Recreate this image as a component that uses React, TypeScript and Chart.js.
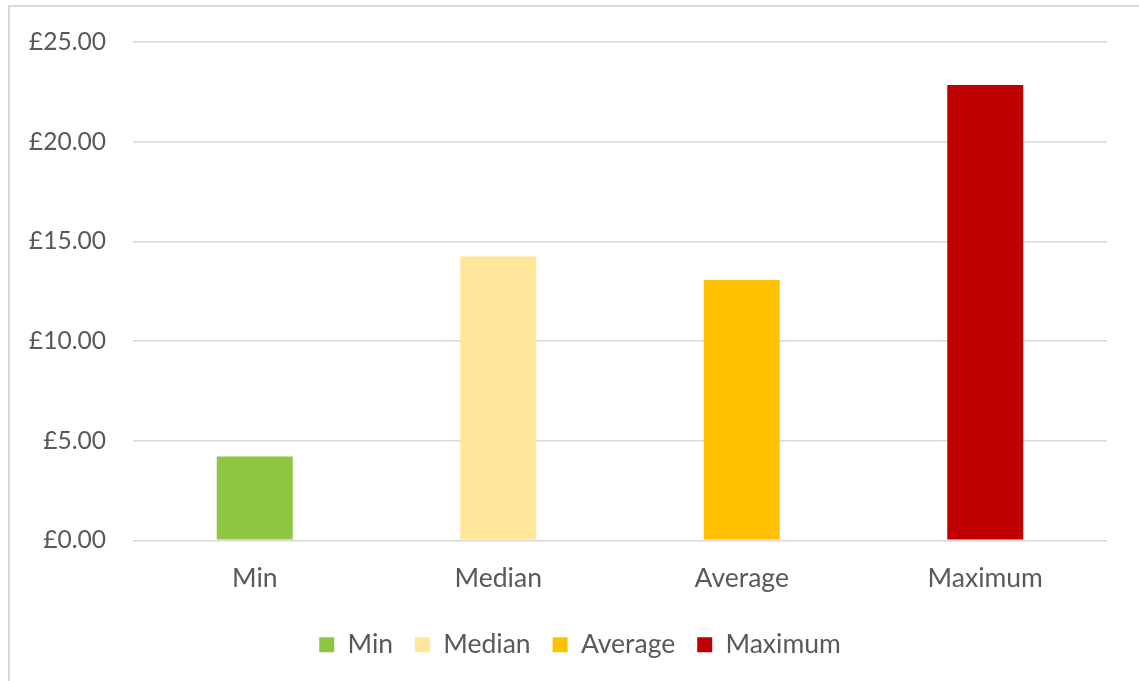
import React, { useEffect, useRef } from 'react';
import { Chart, registerables } from 'chart.js';

Chart.register(...registerables);

const categories = ['Min', 'Median', 'Average', 'Maximum'];
const values = [4.2, 14.24, 13.06, 22.84];
const barColors = ['#8DC63F', '#FFE699', '#FFC000', '#C00000'];
const yMin = 0;
const yMax = 25;
const yStep = 5;

const textColor = '#595959';
const fontFamily = 'Lato, "Open Sans", sans-serif';

const legendShift = {
  id: 'legendShift',
  afterLayout(chart: any) {
    if (chart.legend) {
      chart.legend.left += 53;
    }
  },
};

export default function App() {
  const ref = useRef<HTMLCanvasElement>(null);

  useEffect(() => {
    if (!ref.current) return;
    const chart = new Chart(ref.current, {
      type: 'bar',
      data: {
        labels: categories,
        datasets: [
          {
            label: 'Value',
            data: values,
            backgroundColor: barColors,
            borderWidth: 0,
            barPercentage: 1,
            categoryPercentage: 0.312,
          },
        ],
      },
      plugins: [legendShift],
      options: {
        animation: false,
        responsive: false,
        maintainAspectRatio: false,
        layout: { padding: { top: 42, right: 32, bottom: 0, left: 0 } },
        plugins: {
          tooltip: { enabled: false },
          legend: {
            position: 'bottom',
            labels: {
              color: textColor,
              font: { family: fontFamily, size: 26.5 },
              boxWidth: 15,
              boxHeight: 15,
              padding: 22,
              generateLabels: () =>
                categories.map((c, i) => ({
                  text: c,
                  fillStyle: barColors[i],
                  strokeStyle: barColors[i],
                  lineWidth: 0,
                  hidden: false,
                  index: i,
                  datasetIndex: 0,
                  fontColor: textColor,
                })),
            },
          },
        },
        scales: {
          x: {
            grid: { display: false, drawTicks: false },
            border: { display: false },
            ticks: {
              color: textColor,
              font: { family: fontFamily, size: 26.5 },
              padding: 22,
            },
            afterFit: (s: any) => {
              s.height = 69.25;
            },
          },
          y: {
            min: yMin,
            max: yMax,
            ticks: {
              stepSize: yStep,
              color: textColor,
              font: { family: fontFamily, size: 24.6 },
              padding: 27,
              callback: (v: any) => '£' + Number(v).toFixed(2),
            },
            grid: { color: '#d9d9d9', lineWidth: 1.5, drawTicks: false },
            border: { display: false },
            afterFit: (s: any) => {
              s.width = 133;
            },
          },
        },
      },
    });
    return () => chart.destroy();
  }, []);

  return (
    <div
      style={{
        position: 'absolute',
        left: 0,
        top: 0,
        width: 1139,
        height: 681,
        overflow: 'hidden',
        background: '#ffffff',
      }}
    >
      <div
        style={{
          position: 'absolute',
          left: 8,
          top: 5,
          width: 1160,
          height: 700,
          border: '2px solid #d9d9d9',
          boxSizing: 'border-box',
        }}
      />
      <canvas
        ref={ref}
        width={1139}
        height={668}
        style={{ position: 'absolute', left: 0, top: 0, width: 1139, height: 668 }}
      />
    </div>
  );
}
